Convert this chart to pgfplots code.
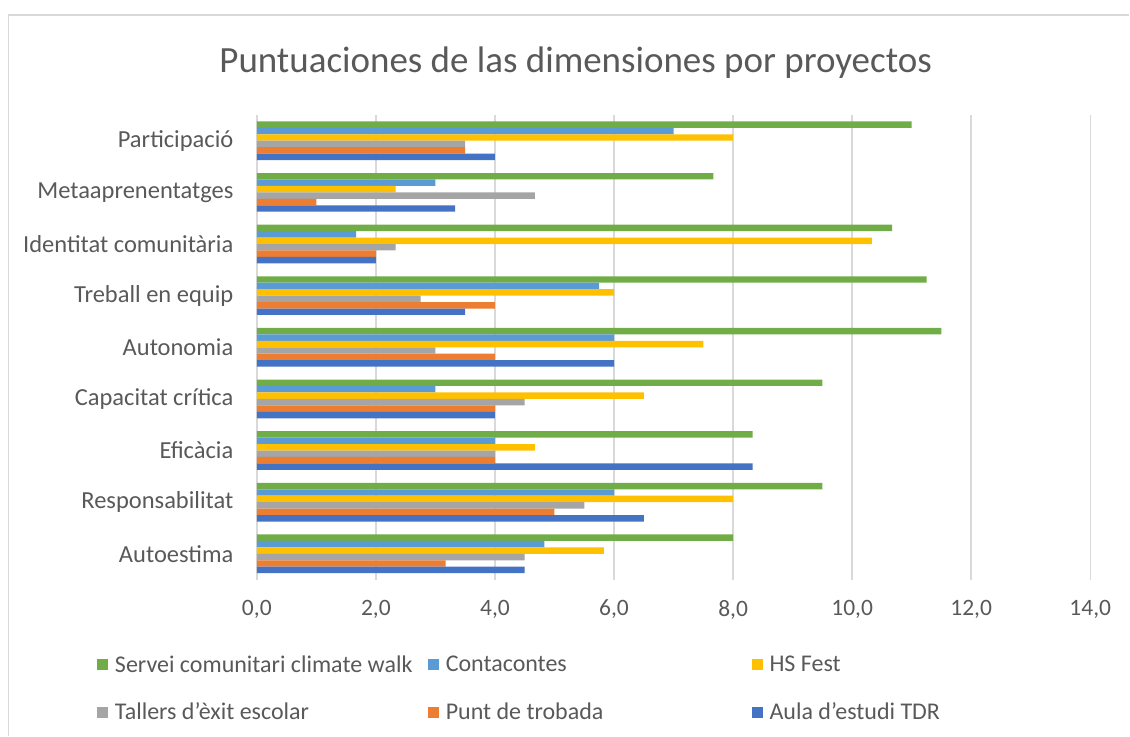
\documentclass[border=0pt]{standalone}
\usepackage{fontspec}
\setmainfont{Carlito}
\usepackage{pgfplots}
\pgfplotsset{compat=1.18}
\definecolor{cgreen}{HTML}{70AD47}
\definecolor{clblue}{HTML}{5B9BD5}
\definecolor{cyellow}{HTML}{FFC000}
\definecolor{cgray}{HTML}{A5A5A5}
\definecolor{corange}{HTML}{ED7D31}
\definecolor{cdblue}{HTML}{4472C4}
\definecolor{ctext}{HTML}{595959}
\definecolor{cgrid}{HTML}{D9D9D9}
\begin{document}
\begin{tikzpicture}
\path (0pt,0pt) rectangle (1130pt,736pt);
\draw[cgrid, line width=1.5pt] (8.5pt,0pt) -- (8.5pt,721pt) -- (1130pt,721pt);
\node[text=ctext, font=\fontsize{37}{44}\selectfont] at (576pt,673pt) {Puntuaciones de las dimensiones por proyectos};
\begin{axis}[
  at={(257pt,156pt)}, anchor=south west,
  scale only axis, width=834pt, height=465pt,
  xmin=0, xmax=14, ymin=-0.5, ymax=8.5,
  xtick={0,2,...,14},
  ytick={0,...,8},
  yticklabels={Autoestima,Responsabilitat,Eficàcia,Capacitat crítica,Autonomia,Treball en equip,Identitat comunitària,Metaaprenentatges,Participació},
  axis line style={draw=none},
  major tick length=0pt,
  xmajorgrids,
  grid style={cgrid, line width=1.5pt},
  tick label style={text=ctext},
  /pgf/number format/.cd, fixed, fixed zerofill, precision=1, use comma, assume math mode=true,
  /pgfplots/.cd,
  yticklabel style={xshift=-20pt, font=\fontsize{24.5}{29}\selectfont},
  xticklabel style={yshift=-17pt, font=\fontsize{23.5}{28}\selectfont},
  bar width=0.125,
  legend columns=3,
  legend style={at={(rel axis cs:-0.192,-0.159)}, anchor=north west, draw=none, fill=none,
    font=\fontsize{24}{29}\selectfont, text=ctext,
    /tikz/every odd column/.append style={column sep=5pt},
    /tikz/every even column/.append style={column sep=0pt},
    row sep=25pt, inner sep=0pt},
  legend cell align=left,
  legend image code/.code={\fill[#1] (0pt,-5.5pt) rectangle (11pt,5.5pt);},
]
\addplot[xbar, fill=cgreen, draw=none, bar shift=0.3125] coordinates {(8,0) (9.5,1) (8.33,2) (9.5,3) (11.5,4) (11.25,5) (10.67,6) (7.67,7) (11,8)};
\addlegendentry{\makebox[311pt][l]{Servei comunitari climate walk}}
\addplot[xbar, fill=clblue, draw=none, bar shift=0.1875] coordinates {(4.83,0) (6,1) (4,2) (3,3) (6,4) (5.75,5) (1.67,6) (3,7) (7,8)};
\addlegendentry{\makebox[304pt][l]{Contacontes}}
\addplot[xbar, fill=cyellow, draw=none, bar shift=0.0625] coordinates {(5.83,0) (8,1) (4.67,2) (6.5,3) (7.5,4) (6,5) (10.33,6) (2.33,7) (8,8)};
\addlegendentry{HS Fest}
\addplot[xbar, fill=cgray, draw=none, bar shift=-0.0625] coordinates {(4.5,0) (5.5,1) (4,2) (4.5,3) (3,4) (2.75,5) (2.33,6) (4.67,7) (3.5,8)};
\addlegendentry{\makebox[311pt][l]{Tallers d'èxit escolar}}
\addplot[xbar, fill=corange, draw=none, bar shift=-0.1875] coordinates {(3.17,0) (5,1) (4,2) (4,3) (4,4) (4,5) (2,6) (1,7) (3.5,8)};
\addlegendentry{\makebox[304pt][l]{Punt de trobada}}
\addplot[xbar, fill=cdblue, draw=none, bar shift=-0.3125] coordinates {(4.5,0) (6.5,1) (8.33,2) (4,3) (6,4) (3.5,5) (2,6) (3.33,7) (4,8)};
\addlegendentry{Aula d'estudi TDR}
\end{axis}
\end{tikzpicture}
\end{document}
